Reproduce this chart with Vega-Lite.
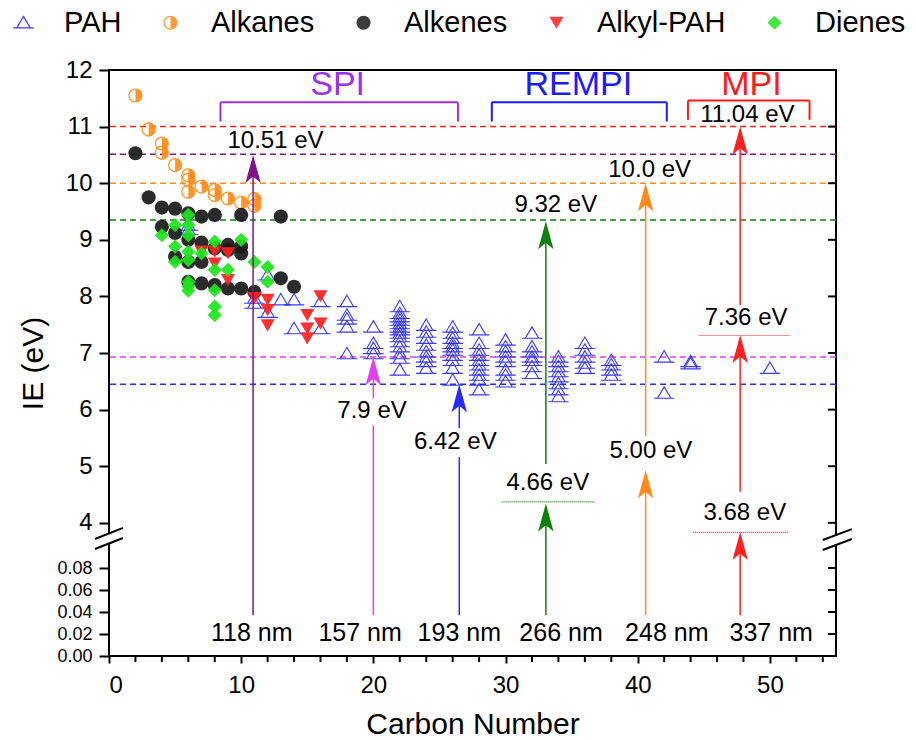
{
  "$schema": "https://vega.github.io/schema/vega-lite/v6.json",
  "width": 727,
  "height": 586,
  "autosize": {"type": "none"},
  "padding": {"left": 109, "top": 70, "right": 80, "bottom": 84},
  "config": {"font": "Liberation Sans", "view": {"stroke": "black", "strokeWidth": 2}},
  "layer": [
    {
      "data": {"values": [
        {"type": "PAH", "x": 6, "y": 9.26}, {"type": "PAH", "x": 6, "y": 9.18},
        {"type": "PAH", "x": 11, "y": 7.97}, {"type": "PAH", "x": 11, "y": 7.88},
        {"type": "PAH", "x": 12, "y": 8.38}, {"type": "PAH", "x": 12, "y": 7.72},
        {"type": "PAH", "x": 13, "y": 7.94}, {"type": "PAH", "x": 14, "y": 7.94}, {"type": "PAH", "x": 14, "y": 7.43},
        {"type": "PAH", "x": 16, "y": 7.91}, {"type": "PAH", "x": 16, "y": 7.43},
        {"type": "PAH", "x": 18, "y": 7.91}, {"type": "PAH", "x": 18, "y": 7.67}, {"type": "PAH", "x": 18, "y": 7.6}, {"type": "PAH", "x": 18, "y": 7.46}, {"type": "PAH", "x": 18, "y": 6.99},
        {"type": "PAH", "x": 20, "y": 7.46}, {"type": "PAH", "x": 20, "y": 7.17}, {"type": "PAH", "x": 20, "y": 7.08}, {"type": "PAH", "x": 20, "y": 6.99},
        {"type": "PAH", "x": 22, "y": 7.82}, {"type": "PAH", "x": 22, "y": 7.7}, {"type": "PAH", "x": 22, "y": 7.64}, {"type": "PAH", "x": 22, "y": 7.58}, {"type": "PAH", "x": 22, "y": 7.52},
        {"type": "PAH", "x": 22, "y": 7.46}, {"type": "PAH", "x": 22, "y": 7.41}, {"type": "PAH", "x": 22, "y": 7.35}, {"type": "PAH", "x": 22, "y": 7.29}, {"type": "PAH", "x": 22, "y": 7.2},
        {"type": "PAH", "x": 22, "y": 7.11}, {"type": "PAH", "x": 22, "y": 6.99}, {"type": "PAH", "x": 22, "y": 6.91}, {"type": "PAH", "x": 22, "y": 6.7},
        {"type": "PAH", "x": 24, "y": 7.49}, {"type": "PAH", "x": 24, "y": 7.37}, {"type": "PAH", "x": 24, "y": 7.26}, {"type": "PAH", "x": 24, "y": 7.14},
        {"type": "PAH", "x": 24, "y": 7.02}, {"type": "PAH", "x": 24, "y": 6.93}, {"type": "PAH", "x": 24, "y": 6.85}, {"type": "PAH", "x": 24, "y": 6.73},
        {"type": "PAH", "x": 26, "y": 7.46}, {"type": "PAH", "x": 26, "y": 7.35}, {"type": "PAH", "x": 26, "y": 7.26}, {"type": "PAH", "x": 26, "y": 7.17}, {"type": "PAH", "x": 26, "y": 7.11},
        {"type": "PAH", "x": 26, "y": 7.05}, {"type": "PAH", "x": 26, "y": 6.96}, {"type": "PAH", "x": 26, "y": 6.87}, {"type": "PAH", "x": 26, "y": 6.73}, {"type": "PAH", "x": 26, "y": 6.52},
        {"type": "PAH", "x": 28, "y": 7.41}, {"type": "PAH", "x": 28, "y": 7.17}, {"type": "PAH", "x": 28, "y": 7.05}, {"type": "PAH", "x": 28, "y": 6.96}, {"type": "PAH", "x": 28, "y": 6.87},
        {"type": "PAH", "x": 28, "y": 6.79}, {"type": "PAH", "x": 28, "y": 6.7}, {"type": "PAH", "x": 28, "y": 6.61}, {"type": "PAH", "x": 28, "y": 6.52}, {"type": "PAH", "x": 28, "y": 6.35},
        {"type": "PAH", "x": 30, "y": 7.23}, {"type": "PAH", "x": 30, "y": 7.11}, {"type": "PAH", "x": 30, "y": 7.02}, {"type": "PAH", "x": 30, "y": 6.93},
        {"type": "PAH", "x": 30, "y": 6.85}, {"type": "PAH", "x": 30, "y": 6.7}, {"type": "PAH", "x": 30, "y": 6.61}, {"type": "PAH", "x": 30, "y": 6.49},
        {"type": "PAH", "x": 32, "y": 7.35}, {"type": "PAH", "x": 32, "y": 7.11}, {"type": "PAH", "x": 32, "y": 7.02}, {"type": "PAH", "x": 32, "y": 6.93},
        {"type": "PAH", "x": 32, "y": 6.87}, {"type": "PAH", "x": 32, "y": 6.76}, {"type": "PAH", "x": 32, "y": 6.64},
        {"type": "PAH", "x": 34, "y": 6.93}, {"type": "PAH", "x": 34, "y": 6.85}, {"type": "PAH", "x": 34, "y": 6.76}, {"type": "PAH", "x": 34, "y": 6.67},
        {"type": "PAH", "x": 34, "y": 6.58}, {"type": "PAH", "x": 34, "y": 6.46}, {"type": "PAH", "x": 34, "y": 6.35}, {"type": "PAH", "x": 34, "y": 6.23},
        {"type": "PAH", "x": 36, "y": 7.17}, {"type": "PAH", "x": 36, "y": 7.05}, {"type": "PAH", "x": 36, "y": 6.93}, {"type": "PAH", "x": 36, "y": 6.82}, {"type": "PAH", "x": 36, "y": 6.73},
        {"type": "PAH", "x": 38, "y": 6.87}, {"type": "PAH", "x": 38, "y": 6.79}, {"type": "PAH", "x": 38, "y": 6.7}, {"type": "PAH", "x": 38, "y": 6.61},
        {"type": "PAH", "x": 42, "y": 6.93}, {"type": "PAH", "x": 42, "y": 6.29},
        {"type": "PAH", "x": 44, "y": 6.85}, {"type": "PAH", "x": 44, "y": 6.81},
        {"type": "PAH", "x": 50, "y": 6.73},
        {"type": "Alkanes", "x": 2, "y": 11.55}, {"type": "Alkanes", "x": 3, "y": 10.95}, {"type": "Alkanes", "x": 4, "y": 10.7}, {"type": "Alkanes", "x": 4, "y": 10.54},
        {"type": "Alkanes", "x": 5, "y": 10.32}, {"type": "Alkanes", "x": 6, "y": 10.14}, {"type": "Alkanes", "x": 6, "y": 10.06}, {"type": "Alkanes", "x": 6, "y": 9.85},
        {"type": "Alkanes", "x": 7, "y": 9.94}, {"type": "Alkanes", "x": 8, "y": 9.88}, {"type": "Alkanes", "x": 8, "y": 9.79}, {"type": "Alkanes", "x": 9, "y": 9.73},
        {"type": "Alkanes", "x": 10, "y": 9.66}, {"type": "Alkanes", "x": 11, "y": 9.72}, {"type": "Alkanes", "x": 11, "y": 9.6},
        {"type": "Alkenes", "x": 2, "y": 10.53}, {"type": "Alkenes", "x": 3, "y": 9.75}, {"type": "Alkenes", "x": 4, "y": 9.57}, {"type": "Alkenes", "x": 5, "y": 9.55},
        {"type": "Alkenes", "x": 6, "y": 9.47}, {"type": "Alkenes", "x": 7, "y": 9.41}, {"type": "Alkenes", "x": 8, "y": 9.44}, {"type": "Alkenes", "x": 10, "y": 9.44},
        {"type": "Alkenes", "x": 13, "y": 9.41}, {"type": "Alkenes", "x": 4, "y": 9.23}, {"type": "Alkenes", "x": 5, "y": 9.12}, {"type": "Alkenes", "x": 6, "y": 9.0},
        {"type": "Alkenes", "x": 7, "y": 8.95}, {"type": "Alkenes", "x": 9, "y": 8.91}, {"type": "Alkenes", "x": 10, "y": 8.88}, {"type": "Alkenes", "x": 9, "y": 8.82},
        {"type": "Alkenes", "x": 10, "y": 8.76}, {"type": "Alkenes", "x": 8, "y": 8.85}, {"type": "Alkenes", "x": 5, "y": 8.7}, {"type": "Alkenes", "x": 6, "y": 8.61},
        {"type": "Alkenes", "x": 7, "y": 8.61}, {"type": "Alkenes", "x": 6, "y": 8.26}, {"type": "Alkenes", "x": 7, "y": 8.23}, {"type": "Alkenes", "x": 8, "y": 8.2},
        {"type": "Alkenes", "x": 9, "y": 8.14}, {"type": "Alkenes", "x": 10, "y": 8.14}, {"type": "Alkenes", "x": 11, "y": 8.08}, {"type": "Alkenes", "x": 13, "y": 8.32},
        {"type": "Alkenes", "x": 14, "y": 8.17},
        {"type": "Alkyl-PAH", "x": 7, "y": 8.79}, {"type": "Alkyl-PAH", "x": 8, "y": 8.79}, {"type": "Alkyl-PAH", "x": 9, "y": 8.76}, {"type": "Alkyl-PAH", "x": 8, "y": 8.58},
        {"type": "Alkyl-PAH", "x": 9, "y": 8.29}, {"type": "Alkyl-PAH", "x": 11, "y": 7.97}, {"type": "Alkyl-PAH", "x": 12, "y": 7.94}, {"type": "Alkyl-PAH", "x": 12, "y": 7.76},
        {"type": "Alkyl-PAH", "x": 12, "y": 7.49}, {"type": "Alkyl-PAH", "x": 15, "y": 7.67}, {"type": "Alkyl-PAH", "x": 15, "y": 7.43}, {"type": "Alkyl-PAH", "x": 15, "y": 7.26},
        {"type": "Alkyl-PAH", "x": 16, "y": 8.0}, {"type": "Alkyl-PAH", "x": 16, "y": 7.52},
        {"type": "Dienes", "x": 6, "y": 9.44}, {"type": "Dienes", "x": 5, "y": 9.26}, {"type": "Dienes", "x": 6, "y": 9.26}, {"type": "Dienes", "x": 4, "y": 9.08},
        {"type": "Dienes", "x": 6, "y": 9.08}, {"type": "Dienes", "x": 8, "y": 8.97}, {"type": "Dienes", "x": 10, "y": 9.0}, {"type": "Dienes", "x": 5, "y": 8.88},
        {"type": "Dienes", "x": 6, "y": 8.79}, {"type": "Dienes", "x": 7, "y": 8.76}, {"type": "Dienes", "x": 5, "y": 8.61}, {"type": "Dienes", "x": 6, "y": 8.64},
        {"type": "Dienes", "x": 8, "y": 8.47}, {"type": "Dienes", "x": 9, "y": 8.47}, {"type": "Dienes", "x": 11, "y": 8.61}, {"type": "Dienes", "x": 12, "y": 8.52},
        {"type": "Dienes", "x": 12, "y": 8.26}, {"type": "Dienes", "x": 6, "y": 8.26}, {"type": "Dienes", "x": 6, "y": 8.1}, {"type": "Dienes", "x": 8, "y": 8.11},
        {"type": "Dienes", "x": 8, "y": 7.82}, {"type": "Dienes", "x": 8, "y": 7.67}, {"type": "Dienes", "x": 6, "y": 8.18}
      ]},
      "layer": [
        {
          "data": {"values": [
            {"src": "337 nm", "y": 11.0}, {"src": "118 nm", "y": 10.51}, {"src": "248 nm", "y": 10.0},
            {"src": "266 nm", "y": 9.35}, {"src": "157 nm", "y": 6.93}, {"src": "193 nm", "y": 6.45}
          ]},
          "mark": {"type": "rule", "strokeDash": [6, 4], "strokeWidth": 1.5},
          "encoding": {
            "y": {"field": "y", "type": "quantitative"},
            "color": {"field": "src", "type": "nominal", "legend": null,
              "scale": {"domain": ["118 nm", "157 nm", "193 nm", "266 nm", "248 nm", "337 nm", "SPI", "REMPI", "MPI"],
                        "range": ["#7d1488", "#e040f0", "#2a2aff", "#0f7f0f", "#ff8c1a", "#ff2020", "#9b30f0", "#1a1aff", "#ff1a1a"]}}
          }
        },
        {
          "mark": {"type": "point", "filled": true, "size": 200, "opacity": 0.92, "strokeWidth": 1.1},
          "encoding": {
            "x": {"field": "x", "type": "quantitative", "scale": {"domain": [0, 55], "nice": false, "zero": false},
              "axis": {"orient": "bottom", "values": [0, 10, 20, 30, 40, 50], "format": "d", "labelOverlap": false,
                "tickSize": 7, "tickWidth": 2, "tickColor": "black",
                "labelFontSize": 24, "labelColor": "black", "labelPadding": 10, "domain": false, "grid": false,
                "title": "Carbon Number", "titleFontSize": 30, "titleFontWeight": "normal", "titleColor": "black", "titlePadding": 12}},
            "y": {"field": "y", "type": "quantitative",
              "scale": {"domain": [0, 0.1, 3.75, 12], "range": [586, 476, 467, 0], "nice": false, "zero": false},
              "axis": {"orient": "left", "values": [0, 0.02, 0.04, 0.06, 0.08, 4, 5, 6, 7, 8, 9, 10, 11, 12],
                "labelExpr": "datum.value < 1 ? format(datum.value, '.2f') : format(datum.value, 'd')", "labelOverlap": false,
                "labelFontSize": {"condition": {"test": "datum.value < 1", "value": 18}, "value": 24},
                "tickSize": 10, "tickWidth": 2, "tickColor": "black", "labelColor": "black", "labelPadding": 7,
                "domain": false, "grid": false, "title": "IE (eV)", "titleFontSize": 30, "titleFontWeight": "normal", "titleColor": "black", "titlePadding": 8}},
            "fill": {"field": "type", "type": "nominal",
              "scale": {"domain": ["PAH", "Alkanes", "Alkenes", "Alkyl-PAH", "Dienes"], "range": ["transparent", "#ff8c1a", "#1a1a1a", "#ff2020", "#1ee61e"]},
              "legend": {"title": null, "orient": "none", "legendX": -100, "legendY": -62, "direction": "horizontal", "labelFontSize": 29, "labelColor": "black", "symbolSize": 200, "labelOffset": 26, "columnPadding": 34, "symbolStrokeWidth": 1.2, "padding": 0, "labelLimit": 300}},
            "stroke": {"field": "type", "type": "nominal",
              "scale": {"domain": ["PAH", "Alkanes", "Alkenes", "Alkyl-PAH", "Dienes"], "range": ["#2a2aff", "transparent", "transparent", "transparent", "transparent"]},
              "legend": {"title": null, "orient": "none", "legendX": -100, "legendY": -62, "direction": "horizontal", "labelFontSize": 29, "labelColor": "black", "symbolSize": 200, "labelOffset": 26, "columnPadding": 34, "symbolStrokeWidth": 1.2, "padding": 0, "labelLimit": 300}},
            "shape": {"field": "type", "type": "nominal",
              "scale": {"domain": ["PAH", "Alkanes", "Alkenes", "Alkyl-PAH", "Dienes"],
                        "range": ["M0,-0.9L0.95,0.72L-0.95,0.72Z M-1.45,0.72L1.45,0.72",
                                  "M1,0A1,1,0,1,1,-1,0A1,1,0,1,1,1,0Z M0.82,0A0.82,0.82,0,1,0,-0.82,0A0.82,0.82,0,1,0,0.82,0Z M0,-0.82A0.82,0.82,0,0,1,0,0.82Z",
                                  "circle", "triangle-down", "diamond"]},
              "legend": {"title": null, "orient": "none", "legendX": -100, "legendY": -62, "direction": "horizontal", "labelFontSize": 29, "labelColor": "black", "symbolSize": 200, "labelOffset": 26, "columnPadding": 34, "symbolStrokeWidth": 1.2, "padding": 0, "labelLimit": 300}}
          }
        },
        {
          "data": {"values": [
            {"src": "118 nm", "x": 10.9, "y": 0.037, "y2": 10.3},
            {"src": "157 nm", "x": 20.0, "y": 0.037, "y2": 5.72}, {"src": "157 nm", "x": 20.0, "y": 6.2, "y2": 6.8},
            {"src": "193 nm", "x": 26.5, "y": 0.037, "y2": 5.16}, {"src": "193 nm", "x": 26.5, "y": 5.67, "y2": 6.3},
            {"src": "266 nm", "x": 33.05, "y": 0.037, "y2": 4.2}, {"src": "266 nm", "x": 33.05, "y": 5.04, "y2": 9.1},
            {"src": "248 nm", "x": 40.6, "y": 0.037, "y2": 4.8}, {"src": "248 nm", "x": 40.6, "y": 5.53, "y2": 9.8},
            {"src": "337 nm", "x": 47.75, "y": 0.037, "y2": 3.7}, {"src": "337 nm", "x": 47.75, "y": 4.55, "y2": 7.1}, {"src": "337 nm", "x": 47.75, "y": 7.85, "y2": 10.8}
          ]},
          "mark": {"type": "rule", "strokeWidth": 1.5},
          "encoding": {
            "x": {"field": "x", "type": "quantitative"},
            "y": {"field": "y", "type": "quantitative"},
            "y2": {"field": "y2"},
            "color": {"field": "src", "type": "nominal", "legend": null}
          }
        },
        {
          "data": {"values": [
            {"src": "118 nm", "x": 10.9, "y": 10.5},
            {"src": "157 nm", "x": 20.0, "y": 6.93},
            {"src": "193 nm", "x": 26.5, "y": 6.45},
            {"src": "266 nm", "x": 33.05, "y": 9.33}, {"src": "266 nm", "x": 33.05, "y": 4.34},
            {"src": "248 nm", "x": 40.6, "y": 10.0}, {"src": "248 nm", "x": 40.6, "y": 4.93},
            {"src": "337 nm", "x": 47.75, "y": 11.0}, {"src": "337 nm", "x": 47.75, "y": 7.32}, {"src": "337 nm", "x": 47.75, "y": 3.84}
          ]},
          "mark": {"type": "point", "filled": true, "size": 784, "opacity": 1, "shape": "M0,0L0.55,2L0,1.55L-0.55,2Z"},
          "encoding": {
            "x": {"field": "x", "type": "quantitative"},
            "y": {"field": "y", "type": "quantitative"},
            "color": {"field": "src", "type": "nominal", "legend": null}
          }
        },
        {
          "data": {"values": [
            {"src": "266 nm", "x": 29.7, "x2": 36.8, "y": 4.37, "y2": 4.37},
            {"src": "337 nm", "x": 44.2, "x2": 51.4, "y": 3.83, "y2": 3.83},
            {"src": "337 nm", "x": 44.6, "x2": 51.5, "y": 7.31, "y2": 7.31}
          ]},
          "mark": {"type": "rule", "strokeWidth": 1.2, "strokeDash": [1, 1]},
          "encoding": {
            "x": {"field": "x", "type": "quantitative"},
            "x2": {"field": "x2"},
            "y": {"field": "y", "type": "quantitative"},
            "y2": {"field": "y2"},
            "color": {"field": "src", "type": "nominal", "legend": null}
          }
        },
        {
          "data": {"values": [
            {"src": "SPI", "x": 8.43, "x2": 26.4, "y": 11.43, "y2": 11.43},
            {"src": "SPI", "x": 8.43, "x2": 8.43, "y": 11.43, "y2": 11.09},
            {"src": "SPI", "x": 26.4, "x2": 26.4, "y": 11.43, "y2": 11.09},
            {"src": "REMPI", "x": 28.96, "x2": 42.2, "y": 11.43, "y2": 11.43},
            {"src": "REMPI", "x": 28.96, "x2": 28.96, "y": 11.43, "y2": 11.09},
            {"src": "REMPI", "x": 42.2, "x2": 42.2, "y": 11.43, "y2": 11.09},
            {"src": "MPI", "x": 43.8, "x2": 53.0, "y": 11.46, "y2": 11.46},
            {"src": "MPI", "x": 43.8, "x2": 43.8, "y": 11.46, "y2": 11.12},
            {"src": "MPI", "x": 53.0, "x2": 53.0, "y": 11.46, "y2": 11.12}
          ]},
          "mark": {"type": "rule", "strokeWidth": 2},
          "encoding": {
            "x": {"field": "x", "type": "quantitative"},
            "x2": {"field": "x2"},
            "y": {"field": "y", "type": "quantitative"},
            "y2": {"field": "y2"},
            "color": {"field": "src", "type": "nominal", "legend": null}
          }
        },
        {
          "data": {"values": [
            {"t": "10.51 eV", "x": 12.6, "y": 10.75}, {"t": "11.04 eV", "x": 48.3, "y": 11.2},
            {"t": "10.0 eV", "x": 40.9, "y": 10.23}, {"t": "9.32 eV", "x": 33.8, "y": 9.62},
            {"t": "7.36 eV", "x": 48.2, "y": 7.62}, {"t": "7.9 eV", "x": 19.9, "y": 5.98},
            {"t": "6.42 eV", "x": 26.2, "y": 5.43}, {"t": "5.00 eV", "x": 41.0, "y": 5.27},
            {"t": "4.66 eV", "x": 33.2, "y": 4.7}, {"t": "3.68 eV", "x": 48.1, "y": 4.17}
          ]},
          "mark": {"type": "text", "fontSize": 24, "color": "black", "align": "center", "baseline": "middle"},
          "encoding": {
            "x": {"field": "x", "type": "quantitative"},
            "y": {"field": "y", "type": "quantitative"},
            "text": {"field": "t"}
          }
        },
        {
          "data": {"values": [
            {"t": "118 nm", "x": 10.8, "y": 0.021}, {"t": "157 nm", "x": 19.0, "y": 0.021},
            {"t": "193 nm", "x": 26.5, "y": 0.021}, {"t": "266 nm", "x": 34.2, "y": 0.021},
            {"t": "248 nm", "x": 42.2, "y": 0.021}, {"t": "337 nm", "x": 50.1, "y": 0.021}
          ]},
          "mark": {"type": "text", "fontSize": 25, "color": "black", "align": "center", "baseline": "middle"},
          "encoding": {
            "x": {"field": "x", "type": "quantitative"},
            "y": {"field": "y", "type": "quantitative"},
            "text": {"field": "t"}
          }
        },
        {
          "data": {"values": [
            {"t": "SPI", "src": "SPI", "x": 17.3, "y": 11.73},
            {"t": "REMPI", "src": "REMPI", "x": 35.5, "y": 11.73},
            {"t": "MPI", "src": "MPI", "x": 48.6, "y": 11.73}
          ]},
          "mark": {"type": "text", "fontSize": 34, "align": "center", "baseline": "middle"},
          "encoding": {
            "x": {"field": "x", "type": "quantitative"},
            "y": {"field": "y", "type": "quantitative"},
            "text": {"field": "t"},
            "color": {"field": "src", "type": "nominal", "legend": null}
          }
        },
        {
          "data": {"values": [
            {"y": 0.02}, {"y": 0.04}, {"y": 0.06}, {"y": 0.08}, {"y": 4}, {"y": 5}, {"y": 6}, {"y": 7}, {"y": 8}, {"y": 9}, {"y": 10}, {"y": 11}, {"y": 12}
          ]},
          "mark": {"type": "rule", "color": "black", "strokeWidth": 2},
          "encoding": {
            "x": {"datum": 54.4, "type": "quantitative"},
            "x2": {"datum": 55},
            "y": {"field": "y", "type": "quantitative"}
          }
        },
        {
          "data": {"values": [
            {"x": 2}, {"x": 4}, {"x": 6}, {"x": 8}, {"x": 12}, {"x": 14}, {"x": 16}, {"x": 18},
            {"x": 22}, {"x": 24}, {"x": 26}, {"x": 28}, {"x": 32}, {"x": 34}, {"x": 36}, {"x": 38},
            {"x": 42}, {"x": 44}, {"x": 46}, {"x": 48}, {"x": 52}, {"x": 54}
          ]},
          "mark": {"type": "rule", "color": "black", "strokeWidth": 2},
          "encoding": {
            "x": {"field": "x", "type": "quantitative"},
            "y": {"datum": 0, "type": "quantitative"},
            "y2": {"datum": -0.0055}
          }
        },
        {
          "data": {"values": [
            {"x": -0.4, "x2": 0.4, "y": 3.8, "y2": 1.15},
            {"x": 54.6, "x2": 55.4, "y": 3.77, "y2": 0.6}
          ]},
          "mark": {"type": "rect", "color": "white"},
          "encoding": {
            "x": {"field": "x", "type": "quantitative"},
            "x2": {"field": "x2"},
            "y": {"field": "y", "type": "quantitative"},
            "y2": {"field": "y2"}
          }
        },
        {
          "data": {"values": [
            {"x": -1.06, "x2": 1.06, "y": 2.94, "y2": 3.91},
            {"x": -1.06, "x2": 1.06, "y": 0.0973, "y2": 3.34},
            {"x": 54.0, "x2": 56.2, "y": 2.53, "y2": 3.89},
            {"x": 54.0, "x2": 56.2, "y": 0.0964, "y2": 2.94}
          ]},
          "mark": {"type": "rule", "color": "black", "strokeWidth": 2},
          "encoding": {
            "x": {"field": "x", "type": "quantitative"},
            "x2": {"field": "x2"},
            "y": {"field": "y", "type": "quantitative"},
            "y2": {"field": "y2"}
          }
        }
      ]
    }
  ]
}
